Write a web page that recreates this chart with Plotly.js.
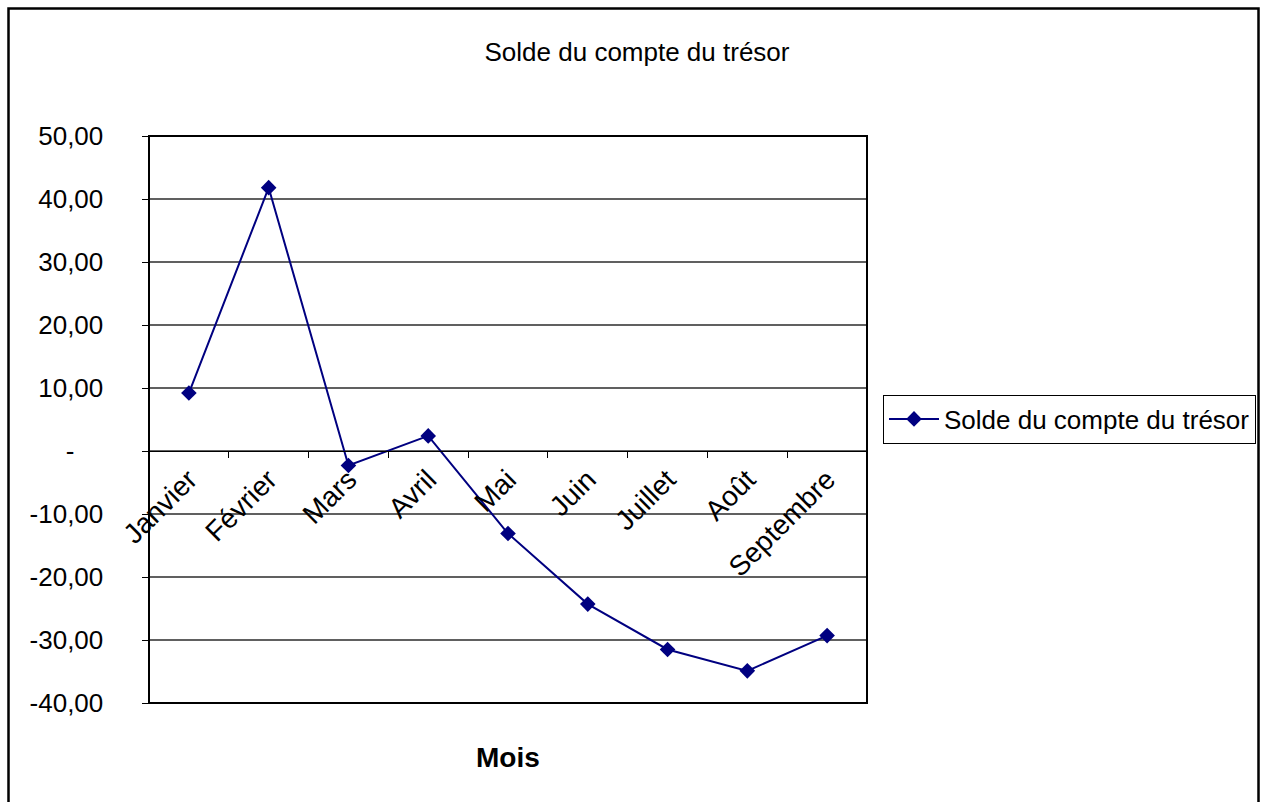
<!DOCTYPE html>
<html>
<head>
<meta charset="utf-8">
<script src="https://cdn.plot.ly/plotly-3.0.1.min.js"></script>
<style>
html,body{margin:0;padding:0;background:#fff;}
#chart{width:1261px;height:802px;}
</style>
</head>
<body>
<div id="chart"></div>
<script>
// Data
const months = ["Janvier","Février","Mars","Avril","Mai","Juin","Juillet","Août","Septembre"];
const solde = [9.2, 41.8, -2.3, 2.4, -13.1, -24.3, -31.5, -34.9, -29.3];
const yTickVals = [-40,-30,-20,-10,0,10,20,30,40,50];
const yTickText = ["-40,00","-30,00","-20,00","-10,00","-\u00a0\u00a0\u00a0\u00a0","10,00","20,00","30,00","40,00","50,00"];
const seriesName = "Solde du compte du trésor";
const chartTitle = "Solde du compte du trésor";
const xTitle = "Mois";

const W = 1261, H = 802;
const L = 149, R = 867, T = 136, B = 703;
const pw = R - L, ph = B - T;
const px = v => (v - L) / pw;
const py = v => (B - v) / ph;
const yMin = -40, yMax = 50;

const FONT = "Liberation Sans, Arial, sans-serif";

const trace = {
  x: months,
  y: solde,
  type: "scatter",
  mode: "lines+markers",
  name: seriesName,
  line: {color: "#000080", width: 2},
  marker: {symbol: "diamond", size: 12, color: "#000080"}
};

const layout = {
  width: W, height: H,
  paper_bgcolor: "#fff", plot_bgcolor: "#fff",
  margin: {l: L, r: W - R, t: T, b: H - B, pad: 0, autoexpand: false},
  font: {family: FONT, color: "#000", size: 26},
  title: {
    text: chartTitle,
    font: {family: FONT, size: 26, color: "#000"},
    xref: "container", yref: "container",
    x: 637 / W, y: 1 - 52 / H, xanchor: "center", yanchor: "middle"
  },
  xaxis: {
    type: "category",
    anchor: "free",
    position: (0 - yMin) / (yMax - yMin),
    showline: true, linecolor: "#000", linewidth: 1,
    ticks: "outside", ticklen: 6, tickcolor: "#000", tickwidth: 1,
    tickson: "boundaries",
    showgrid: false, zeroline: false,
    tickangle: -45,
    tickfont: {family: FONT, size: 28, color: "#000"},
    automargin: false,
    range: [-0.5, 8.5]
  },
  yaxis: {
    range: [yMin, yMax],
    tickvals: yTickVals, ticktext: yTickText,
    showline: true, linecolor: "#000", linewidth: 1.5,
    ticks: "outside", ticklen: 6, tickcolor: "#000", tickwidth: 1,
    ticklabelstandoff: 33,
    showgrid: true, gridcolor: "#606060", gridwidth: 1.3,
    zeroline: false,
    tickfont: {family: FONT, size: 26, color: "#000"},
    automargin: false
  },
  showlegend: true,
  legend: {
    x: px(883), y: py(419), xanchor: "left", yanchor: "middle",
    bordercolor: "#000", borderwidth: 1, bgcolor: "#fff",
    font: {family: FONT, size: 26, color: "#000"},
    itemwidth: 50
  },
  shapes: [
    {type: "rect", xref: "paper", yref: "paper", x0: 0, x1: 1, y0: 0, y1: 1,
     line: {color: "#000", width: 2}, fillcolor: "rgba(0,0,0,0)", layer: "above"},
    {type: "rect", xref: "paper", yref: "paper",
     x0: px(8.5), x1: px(1258.5), y0: py(815), y1: py(8.5),
     line: {color: "#000", width: 2.5}, fillcolor: "rgba(0,0,0,0)"}
  ],
  annotations: [
    {text: "<b>" + xTitle + "</b>", xref: "paper", yref: "paper",
     x: 0.5, y: py(757), xanchor: "center", yanchor: "middle",
     showarrow: false, font: {family: FONT, size: 28, color: "#000"}}
  ]
};

Plotly.newPlot("chart", [trace], layout, {displayModeBar: false, staticPlot: true});
</script>
</body>
</html>
